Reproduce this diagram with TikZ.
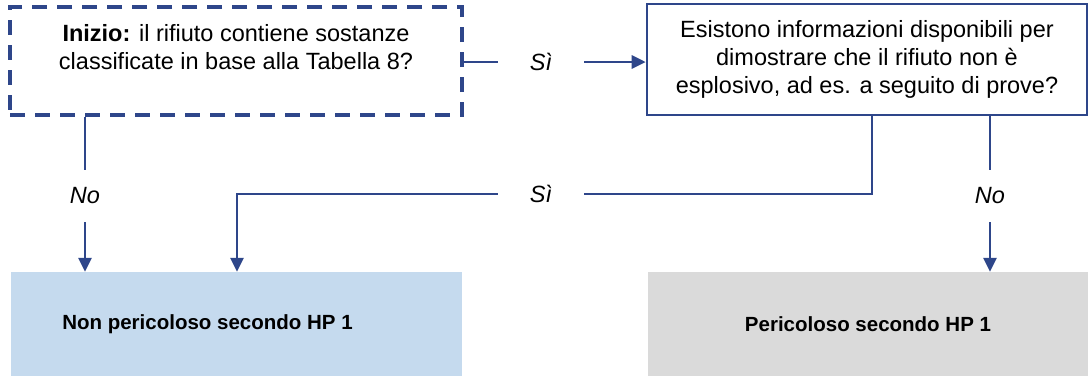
\documentclass[tikz,border=0pt]{standalone}
\usepackage{fontspec}
\setmainfont{Liberation Sans}
\usepackage{tikz}
\usetikzlibrary{arrows.meta, positioning}
\definecolor{navy}{RGB}{46,70,138}
\definecolor{safeblue}{RGB}{197,218,238}
\definecolor{hazgrey}{RGB}{218,218,218}
\newcommand{\flowsize}{\fontsize{23.5}{28}\selectfont}
\newcommand{\resultsize}{\fontsize{20.5}{26}\selectfont}
\tikzstyle{startbox} = [rectangle, minimum width=452pt, minimum height=108pt, align=center, font=\flowsize, draw=navy, line width=3.2pt, dash pattern=on 15pt off 10pt]
\tikzstyle{question} = [rectangle, minimum width=440pt, minimum height=111pt, align=center, font=\flowsize, draw=navy, line width=2.6pt]
\tikzstyle{outcome} = [rectangle, minimum height=104pt, align=center, font=\resultsize\bfseries]
\tikzstyle{answer} = [minimum width=86pt, minimum height=52pt, inner sep=0pt, font=\flowsize\itshape]
\tikzstyle{link} = [navy, line width=2.8pt]
\tikzstyle{arrow} = [navy, line width=2.8pt, -{Triangle[length=14pt,width=13pt]}]

\begin{document}
\begin{tikzpicture}[x=1pt, y=-1pt]
\useasboundingbox (0,0) rectangle (1088,376);

% Nodes
\node (start) [startbox] at (236,61)
{\textbf{Inizio:} il rifiuto contiene sostanze\\
classificate in base alla Tabella 8?\\ ~};

\node (proof) [question] at (867,59.5)
{Esistono informazioni disponibili per\\
dimostrare che il rifiuto non è\\
esplosivo, ad es. a seguito di prove?};

\node (safe) [outcome, fill=safeblue, minimum width=451pt] at (236.5,324)
{Non pericoloso secondo HP 1\hspace*{58pt}};

\node (hazard) [outcome, fill=hazgrey, minimum width=440pt] at (868,324)
{Pericoloso secondo HP 1};

\node (yesA) [answer] at (541,62) {Sì};
\node (noA) [answer] at (85,196) {No};
\node (yesB) [answer] at (541,194) {Sì};
\node (noB) [answer] at (990,196) {No};

\coordinate (turnA) at (872,194);
\coordinate (turnB) at (237,194);

% Arrows
\draw [link] (yesA -| start.east) -- (yesA);
\draw [arrow] (yesA) -- (yesA -| proof.west);
\draw [link] (noA |- start.south) -- (noA);
\draw [arrow] (noA) -- (noA |- safe.north);
\draw [link] (turnA |- proof.south) -- (turnA) -- (yesB);
\draw [arrow] (yesB) -- (turnB) -- (turnB |- safe.north);
\draw [link] (noB |- proof.south) -- (noB);
\draw [arrow] (noB) -- (noB |- hazard.north);

\end{tikzpicture}
\end{document}
